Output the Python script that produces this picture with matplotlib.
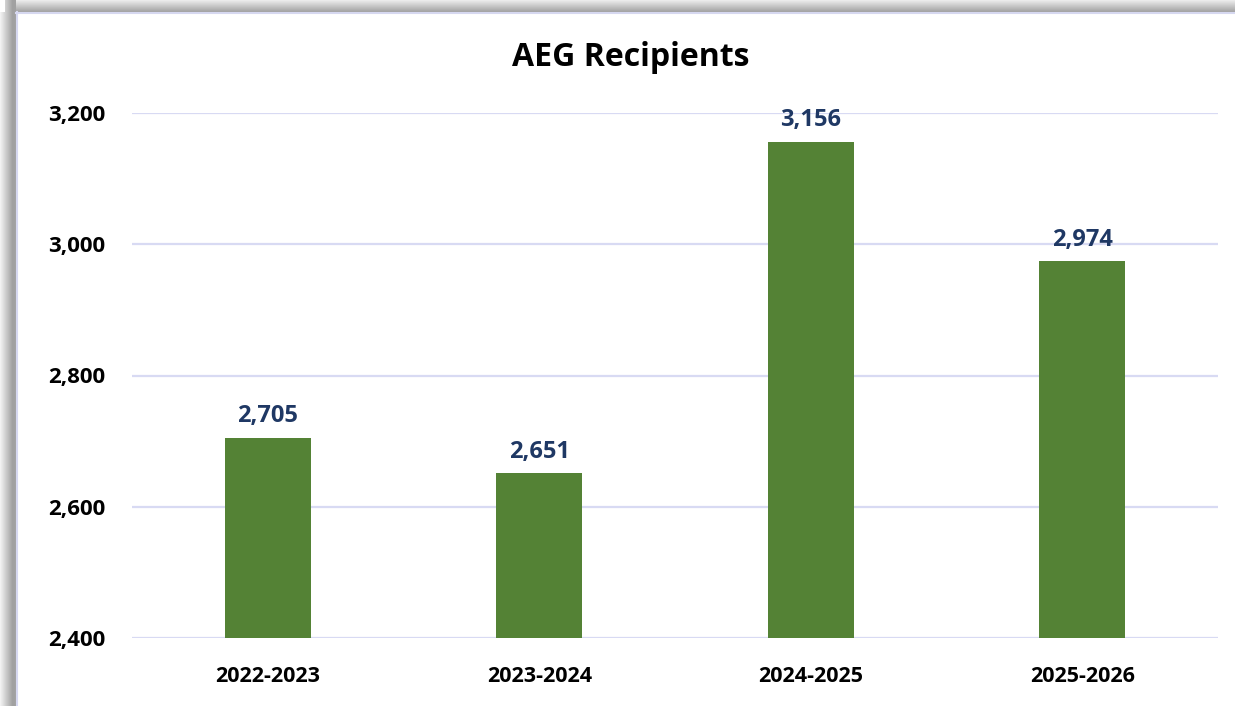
import matplotlib
matplotlib.use("Agg")
import matplotlib.pyplot as plt
from matplotlib.patches import Rectangle
from matplotlib.ticker import FuncFormatter

# data
years = ["2022-2023", "2023-2024", "2024-2025", "2025-2026"]
recipients = [2705, 2651, 3156, 2974]

W, H = 1235, 706
plt.rcParams['font.family'] = ['Open Sans', 'DejaVu Sans']

fig = plt.figure(figsize=(W / 100, H / 100), dpi=100)
fig.patch.set_facecolor("white")

# shadow frame (top and left gradients)
def px(x, y, w, h, **kw):
    fig.add_artist(Rectangle((x / W, 1 - (y + h) / H), w / W, h / H,
                             transform=fig.transFigure, lw=0, zorder=-5, **kw))

for i in range(12):
    g = 0.92 - 0.28 * i / 11
    px(5, i, W - 5, 1, color=(g, g, g))
for i in range(16):
    g = 0.95 - 0.32 * min(i, 12) / 12
    px(i, 12 if i < 5 else 0, 1, H, color=(g, g, g))
# chart area
px(16, 12, W - 16, H - 12, color="white")
fig.add_artist(plt.Line2D([16 / W, 1], [1 - 12.5 / H] * 2, zorder=-4,
                          transform=fig.transFigure, color="#d6d8f0", lw=1.5))
fig.add_artist(plt.Line2D([16.5 / W] * 2, [0, 1 - 12 / H], zorder=-4,
                          transform=fig.transFigure, color="#d6d8f0", lw=1.5))

ax = fig.add_axes([132 / W, 1 - 638 / H, (1218 - 132) / W, (638 - 113) / H])
ax.set_facecolor("none")
ax.set_zorder(5)

x = range(len(years))
bars = ax.bar(x, recipients, width=0.317, color="#548235", zorder=3)
ax.set_xlim(-0.5, len(years) - 0.5)
ax.set_ylim(2400, 3200)
ax.set_yticks(range(2400, 3201, 200))
ax.yaxis.set_major_formatter(FuncFormatter(lambda v, p: f"{int(v):,}"))
ax.set_xticks(list(x))
ax.set_xticklabels(years)

ax.grid(axis="y", color="#d8daf3", lw=1.6, zorder=0)
for s in ax.spines.values():
    s.set_visible(False)
ax.tick_params(length=0)
ax.tick_params(axis="y", pad=19, labelsize=16)
ax.tick_params(axis="x", pad=20, labelsize=15.5)
for lab in ax.get_xticklabels() + ax.get_yticklabels():
    lab.set_fontweight("bold")
    lab.set_color("black")

for b, v in zip(bars, recipients):
    ax.annotate(f"{v:,}", (b.get_x() + b.get_width() / 2, v),
                xytext=(0, 7), textcoords="offset points",
                ha="center", va="bottom", fontsize=17, fontweight="bold",
                color="#1f3864")

fig.text(631 / W, 1 - 57 / H, "AEG Recipients",
         ha="center", va="center", fontsize=23, fontweight="bold")

fig.savefig("out.png", dpi=100)
